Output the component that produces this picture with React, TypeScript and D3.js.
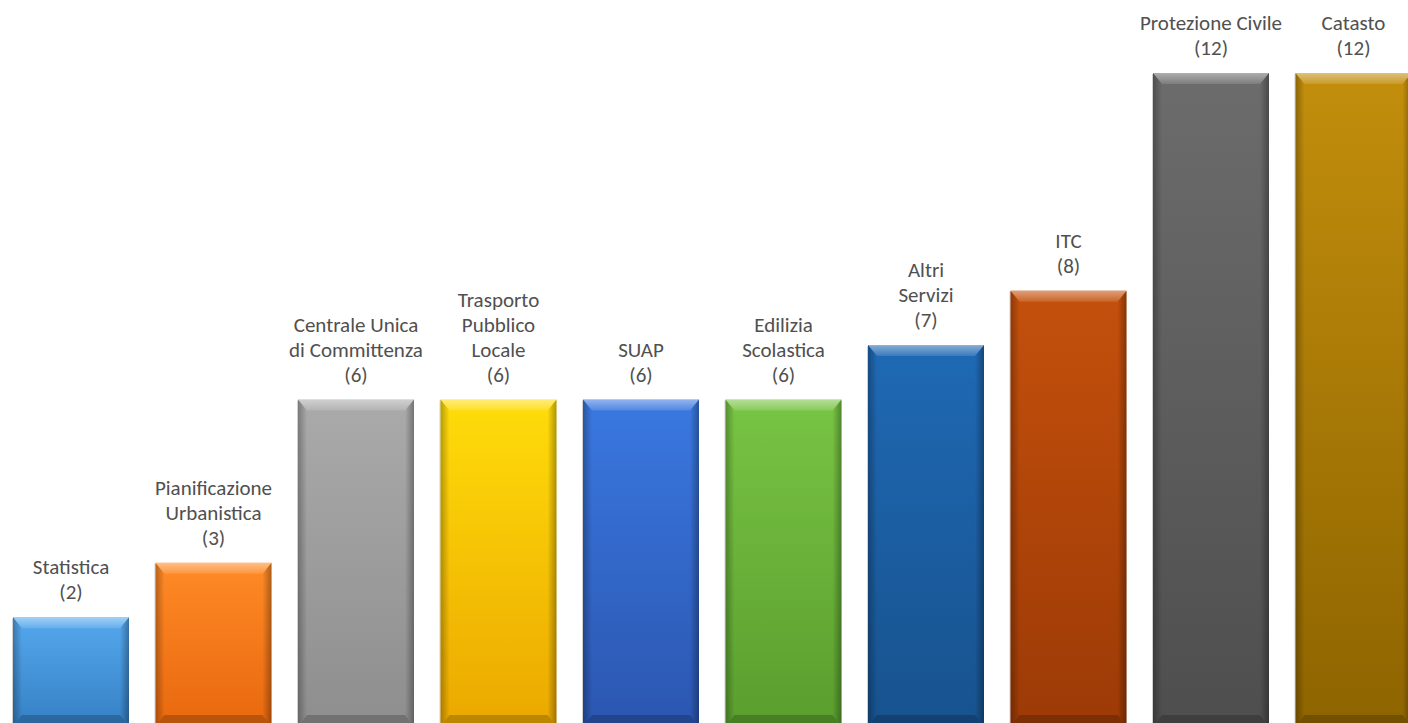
import React from "react";
import * as d3 from "d3";

const categories: string[][] = [
  ["Statistica"],
  ["Pianificazione", "Urbanistica"],
  ["Centrale Unica", "di Committenza"],
  ["Trasporto", "Pubblico", "Locale"],
  ["SUAP"],
  ["Edilizia", "Scolastica"],
  ["Altri", "Servizi"],
  ["ITC"],
  ["Protezione Civile"],
  ["Catasto"],
];
const values: number[] = [2, 3, 6, 6, 6, 6, 7, 8, 12, 12];
const topColors: string[] = [
  "#55a8ee", "#ff8a26", "#aaaaaa", "#ffdc0a", "#3a78e0",
  "#78c444", "#1f69b4", "#c4500c", "#6c6c6c", "#c28e0c",
];
const bottomColors: string[] = [
  "#3580c4", "#e8680e", "#8e8e8e", "#eba800", "#2b56b0",
  "#5a9e2e", "#17528e", "#9c3a06", "#4e4e4e", "#8e6400",
];

const W = 1408;
const H = 723;
const BASE = 726;
const TOP12 = 73;

export default function App() {
  const ids = categories.map((_, i) => "b" + i);
  const x = d3
    .scaleBand<string>()
    .domain(ids)
    .range([-0.25, 1424.75])
    .paddingInner(0.186)
    .paddingOuter(0.093);
  const y = d3.scaleLinear().domain([0, 12]).range([BASE, TOP12]);
  const bw = x.bandwidth();
  const bev = 11;
  const side = 9;

  return (
    <svg
      width={W}
      height={H}
      style={{ position: "absolute", left: 0, top: 0, background: "#fff" }}
    >
      <defs>
        {ids.map((id, i) => (
          <linearGradient key={id} id={"g" + id} x1="0" y1="0" x2="0" y2="1">
            <stop offset="0" stopColor={topColors[i]} />
            <stop offset="1" stopColor={bottomColors[i]} />
          </linearGradient>
        ))}
        <linearGradient id="sideL" x1="0" y1="0" x2="1" y2="0">
          <stop offset="0" stopColor="#000" stopOpacity={0.28} />
          <stop offset="1" stopColor="#000" stopOpacity={0.0} />
        </linearGradient>
        <linearGradient id="sideR" x1="1" y1="0" x2="0" y2="0">
          <stop offset="0" stopColor="#000" stopOpacity={0.32} />
          <stop offset="1" stopColor="#000" stopOpacity={0.0} />
        </linearGradient>
        <linearGradient id="topB" x1="0" y1="0" x2="0" y2="1">
          <stop offset="0" stopColor="#fff" stopOpacity={0.45} />
          <stop offset="1" stopColor="#fff" stopOpacity={0.12} />
        </linearGradient>
      </defs>
      {ids.map((id, i) => {
        const x0 = x(id)!;
        const x1 = x0 + bw;
        const yt = y(values[i]);
        const yb = y(0);
        const cx = x0 + bw / 2;
        const lines = [...categories[i], `(${values[i]})`];
        return (
          <g key={id}>
            <rect x={x0 - 1} y={yt + 1} width={1} height={yb - yt} fill="#d0d0d0" />
            <rect x={x0} y={yt} width={bw} height={yb - yt} fill={`url(#g${id})`} />
            <polygon
              points={`${x0},${yt} ${x0 + side},${yt + bev} ${x0 + side},${yb - bev} ${x0},${yb}`}
              fill="url(#sideL)"
            />
            <polygon
              points={`${x1},${yt} ${x1 - side},${yt + bev} ${x1 - side},${yb - bev} ${x1},${yb}`}
              fill="url(#sideR)"
            />
            <polygon
              points={`${x0},${yt} ${x1},${yt} ${x1 - side},${yt + bev} ${x0 + side},${yt + bev}`}
              fill="url(#topB)"
            />
            <polygon
              points={`${x0},${yb} ${x1},${yb} ${x1 - side},${yb - bev} ${x0 + side},${yb - bev}`}
              fill="#000"
              fillOpacity={0.2}
            />
            <text
              x={cx}
              textAnchor="middle"
              fontFamily="Carlito, Calibri, 'Open Sans', sans-serif"
              fontSize={21}
              fill="#505050"
            >
              {lines.map((l, k) => (
                <tspan key={k} x={cx} y={yt - 18 - (lines.length - 1 - k) * 25}>
                  {l}
                </tspan>
              ))}
            </text>
          </g>
        );
      })}
    </svg>
  );
}
